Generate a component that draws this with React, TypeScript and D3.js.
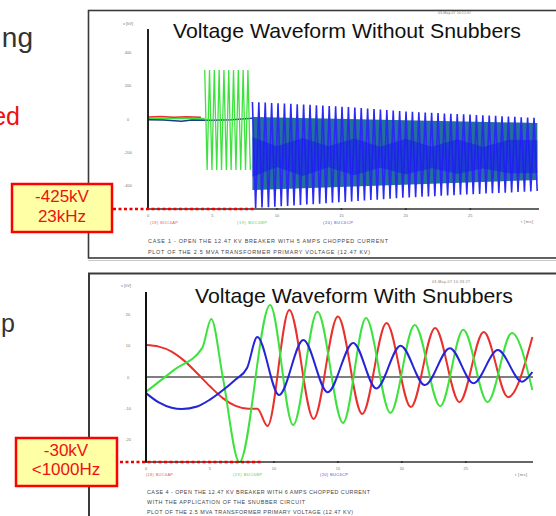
import React from 'react';
import * as d3 from 'd3';

type P = [number, number];
const F = "'Liberation Sans', Arial, Helvetica, sans-serif";

// ---------- Top chart (Without snubbers), t in ms, v in kV ----------
const topXTicks = [0, 5, 10, 15, 20, 25];
const topYTicks = [400, 200, 0, -200, -400];
const topRedPre: P[] = [[0, 12], [1, 15], [2, 10], [3, 13], [4.1, 11]];
const topGreenPre: P[] = [[0, 3], [4.4, 3]];
const topBluePre: P[] = [[0, -4], [1.2, -6], [2.6, -14], [3.4, -6], [5, -8], [6.5, -4], [8.1, 4]];
const greenBurstT = [4.4, 8.1];
const greenBurstUpper = [297, 297];
const greenBurstLower = [-309, -309];
const blueEnvT = [8.1, 12, 16, 20, 24, 28, 30.2];
const blueEnvUpper = [103, 88, 70, 45, 30, 15, 6];
const blueEnvLower = [-540, -520, -498, -476, -460, -445, -436];
const tealT = [8.1, 30.2];
const tealUpper = [12, -24];
const tealLower = [-430, -370];
const centerT = [8.1, 10, 12, 14, 16, 18, 20, 22, 24, 26, 28, 30.2];
const centerUpper = [-110, -165, -115, -165, -118, -168, -120, -168, -122, -170, -125, -128];
const centerLower = [-350, -290, -345, -292, -340, -295, -335, -298, -332, -300, -328, -327];

// ---------- Bottom chart (With snubbers) ----------
const botXTicks = [0, 5, 10, 15, 20, 25];
const botYTicks = [20, 10, 0, -10, -20];
const botRed: P[] = [[0, 10.3], [1, 9.8], [2, 8.2], [3, 5.2], [4, 1.2], [5, -3], [6, -6.8], [7, -9.3], [8, -10.2], [8.7, -10.2], [9.5, -15.8], [11.2, 21.6], [13.1, -13.5], [15.0, 19.5], [16.9, -11.9], [18.8, 17.4], [20.7, -9.7], [22.6, 15.8], [24.5, -8.1], [26.4, 14.5], [28.3, -6.5], [30.2, 12.9]];
const botGreen: P[] = [[0, -4.8], [2.2, 2.3], [4.4, 9.4], [5.1, 18.7], [6.0, 0], [7.3, -27.4], [9.7, 23.2], [11.5, -15.5], [13.4, 21], [15.4, -14.8], [17.2, 19], [19.1, -11.6], [21.0, 16.8], [23.0, -9.4], [24.8, 15.2], [26.7, -8.1], [28.6, 14.2], [30.2, -4.2]];
const botBlue: P[] = [[0, -5.2], [1, -8.2], [2, -9.9], [2.8, -10.3], [4, -9.5], [5, -7.3], [6, -4.3], [7, -0.8], [7.9, 2.9], [8.7, 12.9], [10.4, -5.8], [12.3, 11.9], [14.2, -4.9], [16.2, 11.0], [18.0, -3.7], [19.9, 10.1], [21.8, -2.6], [23.75, 9.3], [25.6, -2.0], [27.5, 8.7], [29.4, -1.5], [30.2, 1.6]];

const topLegend = ['(18) BUC6AP', '(19) BUC6BP', '(20) BUC6CP'];
const botLegend = ['(18) BUC6AP', '(19) BUC6BP', '(20) BUC6CP'];
const topCaption = ['CASE 1 - OPEN THE 12.47 KV BREAKER WITH 5 AMPS CHOPPED CURRENT', 'PLOT OF THE 2.5 MVA TRANSFORMER PRIMARY VOLTAGE (12.47 KV)'];
const botCaption = ['CASE 4 - OPEN THE 12.47 KV BREAKER WITH 6 AMPS CHOPPED CURRENT', 'WITH THE APPLICATION OF THE SNUBBER CIRCUIT', 'PLOT OF THE 2.5 MVA TRANSFORMER PRIMARY VOLTAGE (12.47 KV)'];

const RED = '#e8302c';
const GREEN = '#3ee23e';
const BLUE = '#2424d8';

function zigzag(ts: number[], up: number[], lo: number[], x: d3.ScaleLinear<number, number>, y: d3.ScaleLinear<number, number>, step: number) {
  const fu = d3.scaleLinear().domain(ts).range(up);
  const fl = d3.scaleLinear().domain(ts).range(lo);
  const x0 = x(ts[0]);
  const x1 = x(ts[ts.length - 1]);
  const pts: P[] = [];
  let i = 0;
  for (let px = x0; px <= x1 + 0.01; px += step, i++) {
    const t = x.invert(px);
    pts.push([px, y(i % 2 === 0 ? fu(t) : fl(t))]);
  }
  return d3.line()(pts) || '';
}

export default function App() {
  const xT = d3.scaleLinear().domain([0, 30.25]).range([148, 538]);
  const yT = d3.scaleLinear().domain([-545, 545]).range([209, 29]);
  const xB = d3.scaleLinear().domain([0, 30.25]).range([146, 533]);
  const yB = d3.scaleLinear().domain([-27.4, 27.4]).range([462, 292]);

  const lineT = d3.line<P>().x(d => xT(d[0])).y(d => yT(d[1]));
  const lineB = d3.line<P>().x(d => xB(d[0])).y(d => yB(d[1])).curve(d3.curveMonotoneX);

  const bandT = (ts: number[], up: number[], lo: number[]) =>
    d3.area<number>().x(t => xT(t)).y0((_, i) => yT(lo[i])).y1((_, i) => yT(up[i]))(ts) || '';

  const tiny = { fontFamily: F, fontSize: 4, fill: '#777' } as const;
  const cap = { fontFamily: F, fontSize: 5.4, fill: '#444' } as const;

  return (
    <svg width={556} height={516} style={{ position: 'absolute', left: 0, top: 0, background: '#fff' }}>
      {/* slide text fragments */}
      <text x={33} y={47} textAnchor="end" fontFamily={F} fontSize={28} fill="#333">ng</text>
      <text x={20} y={125} textAnchor="end" fontFamily={F} fontSize={25} fill="#ee1111">ed</text>
      <text x={15} y={332} textAnchor="end" fontFamily={F} fontSize={25} fill="#333">up</text>

      {/* frames */}
      <rect x={88.5} y={10.5} width={520} height={247.5} fill="#fff" stroke="#3a3a3a" strokeWidth={1.6} />
      <line x1={88} x2={556} y1={260.5} y2={260.5} stroke="#c8c8c8" strokeWidth={1} />
      <rect x={89} y={273.5} width={520} height={300} fill="#fff" stroke="#3a3a3a" strokeWidth={2} />

      {/* ===== top chart ===== */}
      <text x={173} y={38} fontFamily={F} fontSize={21} fill="#111" textLength={348} lengthAdjust="spacingAndGlyphs">Voltage Waveform Without Snubbers</text>
      <text x={438} y={14} {...tiny} fontSize={3.5} textLength={33}>03-May-07 10:21:07</text>
      <text x={128} y={25} {...tiny} textAnchor="middle">v [kV]</text>
      {topYTicks.map(v => (
        <text key={v} x={128} y={yT(v) + 1.5} {...tiny} textAnchor="middle">{v}</text>
      ))}
      {topXTicks.map(t => (
        <g key={t}>
          <circle cx={xT(t)} cy={209} r={1.1} fill="#222" />
          <text x={xT(t)} y={217} {...tiny} textAnchor="middle">{t}</text>
        </g>
      ))}
      <text x={521} y={223} {...tiny} textLength={12}>t [ms]</text>
      <text x={150} y={224} {...tiny} fill="#e06060" textLength={28}>{topLegend[0]}</text>
      <text x={237} y={224} {...tiny} fill="#50d050" textLength={30}>{topLegend[1]}</text>
      <text x={323} y={224} {...tiny} fill="#5050d8" textLength={30}>{topLegend[2]}</text>
      <text x={148} y={243} {...cap} textLength={240}>{topCaption[0]}</text>
      <text x={148} y={254} {...cap} textLength={222}>{topCaption[1]}</text>

      {/* pre-chop traces */}
      <path d={lineT(topGreenPre) || ''} fill="none" stroke={GREEN} strokeWidth={1.5} />
      <path d={lineT(topRedPre) || ''} fill="none" stroke={RED} strokeWidth={1.5} />
      <path d={lineT(topBluePre) || ''} fill="none" stroke="#1a3a8a" strokeWidth={1.5} />
      {/* green burst */}
      <path d={zigzag(greenBurstT, greenBurstUpper, greenBurstLower, xT, yT, 2.4)} fill="none" stroke={GREEN} strokeWidth={1.3} />
      {/* blue oscillation */}
      <path d={bandT(tealT, tealUpper, tealLower)} fill="#23709c" />
      <path d={zigzag(blueEnvT, blueEnvUpper, blueEnvLower, xT, yT, 3.2)} fill="none" stroke="#2a2af2" strokeWidth={1.6} />
      <path d={bandT(centerT, centerUpper, centerLower)} fill="#1818f0" opacity={0.55} />

      <line x1={148} x2={148} y1={29} y2={209} stroke="#222" strokeWidth={2} />
      <line x1={148} x2={539} y1={209} y2={209} stroke="#333" strokeWidth={1.5} />
      <line x1={113} x2={254} y1={209} y2={209} stroke="#ee0000" strokeWidth={2.5} strokeDasharray="3,2.5" />

      {/* ===== bottom chart ===== */}
      <text x={195} y={303} fontFamily={F} fontSize={21} fill="#111" textLength={318} lengthAdjust="spacingAndGlyphs">Voltage Waveform With Snubbers</text>
      <text x={432} y={283} {...tiny} fontSize={3.5} textLength={38}>03-May-07 10:33:27</text>
      <text x={126} y={287} {...tiny} textAnchor="middle">v [kV]</text>
      {botYTicks.map(v => (
        <text key={v} x={128} y={yB(v) + 1.5} {...tiny} textAnchor="middle">{v}</text>
      ))}
      {botXTicks.map(t => (
        <g key={t}>
          <circle cx={xB(t)} cy={462} r={1.1} fill="#222" />
          <text x={xB(t)} y={470} {...tiny} textAnchor="middle">{t}</text>
        </g>
      ))}
      <text x={515} y={476} {...tiny} textLength={12}>t [ms]</text>
      <text x={146} y={476} {...tiny} fill="#e06060" textLength={27}>{botLegend[0]}</text>
      <text x={233} y={476} {...tiny} fill="#50d050" textLength={29}>{botLegend[1]}</text>
      <text x={320} y={476} {...tiny} fill="#5050d8" textLength={28}>{botLegend[2]}</text>
      <text x={147} y={494} {...cap} textLength={223}>{botCaption[0]}</text>
      <text x={147} y={504} {...cap} textLength={158}>{botCaption[1]}</text>
      <text x={147} y={514} {...cap} textLength={206}>{botCaption[2]}</text>

      <line x1={146} x2={533} y1={yB(0)} y2={yB(0)} stroke="#555" strokeWidth={1.5} />
      <path d={lineB(botRed) || ''} fill="none" stroke={RED} strokeWidth={2} />
      <path d={lineB(botGreen) || ''} fill="none" stroke={GREEN} strokeWidth={2} />
      <path d={lineB(botBlue) || ''} fill="none" stroke={BLUE} strokeWidth={2} />

      <line x1={146} x2={146} y1={292} y2={462} stroke="#111" strokeWidth={2} />
      <line x1={146} x2={533} y1={462} y2={462} stroke="#333" strokeWidth={1.5} />
      <line x1={120} x2={262} y1={462} y2={462} stroke="#ee0000" strokeWidth={2.5} strokeDasharray="3,2.5" />

      {/* annotation boxes */}
      <rect x={12} y={184} width={100} height={48} fill="#ffffa6" stroke="#ff0000" strokeWidth={2.5} />
      <text x={62} y={202} textAnchor="middle" fontFamily={F} fontSize={17} fill="#ee1111">-425kV</text>
      <text x={62} y={222} textAnchor="middle" fontFamily={F} fontSize={17} fill="#ee1111">23kHz</text>
      <rect x={16} y={438} width={101} height={48} fill="#ffffa6" stroke="#ff0000" strokeWidth={2.5} />
      <text x={66} y={456} textAnchor="middle" fontFamily={F} fontSize={17} fill="#ee1111">-30kV</text>
      <text x={66} y={475} textAnchor="middle" fontFamily={F} fontSize={17} fill="#ee1111">&lt;1000Hz</text>
    </svg>
  );
}
